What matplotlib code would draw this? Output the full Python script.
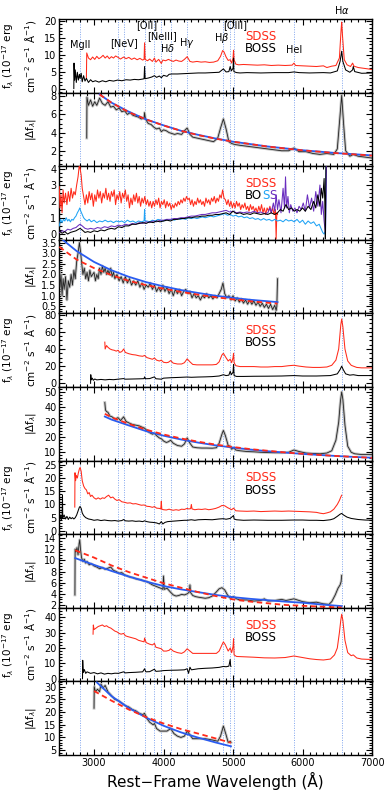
import numpy as np
import matplotlib.pyplot as plt
from matplotlib.ticker import MultipleLocator

# colours
RED = '#ff2a1a'
BLACK = '#000000'
LBLUE = '#1fa3f5'
PURPLE = '#6a2dbf'
FITBLUE = '#2a5cf0'
DOT = '#7fa4ee'
GRAY = '#c4c4c4'

# emission lines marked with dotted verticals (rest frame, Angstrom)
LINE_WL = [2798, 3346, 3426, 3727, 3869, 3968, 4102, 4340, 4861, 4959, 5007, 5876, 6563]

# ---------------------------------------------------------------- object 1
p1_sdss = [(2890, 3.0), (2895, 10.5), (2920, 9.0), (2950, 8.5), (2980, 9.3), (3010, 8.6), (3040, 9.5),
           (3070, 8.8), (3100, 9.2), (3130, 9.8), (3160, 9.0), (3190, 9.6), (3220, 8.8), (3250, 9.4),
           (3280, 9.0), (3310, 9.6), (3346, 9.2), (3380, 8.7), (3426, 9.3), (3460, 8.8), (3500, 9.2),
           (3540, 8.6), (3580, 9.0), (3620, 8.5), (3660, 8.9), (3700, 8.4), (3720, 8.6), (3727, 13.5),
           (3735, 8.6), (3770, 8.2), (3800, 8.7), (3840, 8.0), (3869, 9.0), (3890, 7.8), (3930, 8.6),
           (3968, 7.4), (3990, 8.4), (4030, 8.2), (4070, 8.6), (4102, 8.3), (4140, 8.0), (4180, 8.4),
           (4220, 8.1), (4260, 8.0), (4300, 8.6), (4340, 9.4), (4380, 8.0), (4420, 7.8), (4480, 8.0),
           (4540, 7.8), (4600, 7.9), (4660, 7.7), (4720, 7.8), (4780, 8.2), (4820, 9.5), (4850, 11.2),
           (4870, 10.8), (4900, 9.3), (4930, 8.3), (4959, 8.5), (4980, 7.5), (5000, 9.0), (5007, 11.3),
           (5015, 8.5), (5040, 7.2), (5080, 7.0), (5150, 7.1), (5250, 7.0), (5350, 6.9), (5450, 7.0),
           (5550, 6.8), (5650, 6.9), (5750, 6.8), (5850, 6.9), (5876, 7.5), (5900, 6.8), (6000, 6.7),
           (6100, 6.6), (6200, 6.5), (6300, 6.7), (6350, 6.2), (6420, 6.6), (6480, 6.8), (6530, 9.0),
           (6555, 17.5), (6563, 19.6), (6575, 15.5), (6600, 8.5), (6640, 7.0), (6690, 6.5), (6720, 7.5),
           (6740, 6.6), (6800, 6.2), (6870, 6.0), (6940, 5.8), (7000, 5.6)]
p1_boss = [(2709, 0.0), (2712, 7.5), (2720, 2.5), (2730, 5.5), (2745, 1.8), (2760, 4.8), (2775, 2.5),
           (2790, 4.2), (2800, 3.0), (2815, 4.5), (2830, 2.0), (2850, 3.8), (2870, 2.2), (2890, 3.0),
           (2920, 1.8), (2950, 2.6), (2980, 2.0), (3020, 2.3), (3070, 1.9), (3120, 2.3), (3170, 2.0),
           (3220, 2.4), (3280, 2.2), (3340, 2.5), (3400, 2.3), (3460, 2.6), (3520, 2.5), (3580, 2.7),
           (3640, 2.6), (3700, 2.8), (3720, 2.9), (3727, 6.5), (3735, 2.9), (3780, 3.1), (3830, 3.4),
           (3869, 3.8), (3900, 3.3), (3940, 3.7), (3968, 3.2), (4000, 3.9), (4050, 3.6), (4080, 4.2),
           (4120, 4.3), (4200, 4.3), (4300, 4.4), (4400, 4.5), (4500, 4.6), (4600, 4.6), (4700, 4.7),
           (4800, 4.8), (4861, 5.8), (4900, 4.9), (4940, 5.0), (4959, 6.5), (4975, 5.2), (5000, 6.0),
           (5007, 9.0), (5012, 5.0), (5050, 4.7), (5100, 4.6), (5200, 4.7), (5400, 4.6), (5600, 4.7),
           (5800, 4.7), (5876, 4.9), (5950, 4.7), (6100, 4.6), (6300, 4.7), (6400, 4.6), (6500, 5.2),
           (6540, 8.0), (6563, 11.0), (6580, 8.0), (6620, 5.5), (6680, 4.8), (6720, 5.5), (6730, 6.5),
           (6750, 5.0), (6850, 4.5), (7000, 4.6)]
p2_diff = [(2895, 3.4), (2898, 7.9), (2920, 7.0), (2950, 7.6), (2980, 6.9), (3010, 7.4), (3040, 7.0),
           (3080, 7.8), (3120, 7.2), (3160, 7.0), (3200, 7.4), (3240, 6.8), (3280, 6.9), (3320, 6.5),
           (3360, 6.7), (3400, 6.3), (3440, 6.4), (3480, 6.0), (3520, 6.2), (3560, 5.9), (3600, 5.8),
           (3640, 5.7), (3680, 5.5), (3720, 5.6), (3727, 6.2), (3740, 5.5), (3780, 5.0), (3820, 4.9),
           (3860, 4.6), (3900, 4.4), (3940, 4.5), (3968, 4.1), (4000, 4.3), (4040, 4.2), (4080, 4.0),
           (4120, 3.9), (4160, 3.8), (4200, 3.9), (4260, 3.8), (4300, 4.2), (4340, 4.5), (4380, 3.8),
           (4420, 3.5), (4480, 3.4), (4540, 3.3), (4600, 3.2), (4660, 3.1), (4720, 3.0), (4780, 3.4),
           (4820, 4.5), (4861, 5.5), (4900, 4.4), (4940, 3.0), (4980, 2.8), (5020, 2.7), (5100, 2.6),
           (5200, 2.5), (5300, 2.4), (5400, 2.3), (5500, 2.2), (5600, 2.1), (5700, 2.0), (5800, 2.0),
           (5876, 2.3), (5950, 1.9), (6050, 1.9), (6150, 1.7), (6250, 1.6), (6350, 1.7), (6450, 1.6),
           (6500, 2.2), (6530, 5.0), (6563, 8.1), (6590, 5.0), (6620, 2.0), (6680, 1.4), (6730, 1.6),
           (6800, 1.4), (6900, 1.3), (7000, 1.2)]
p2_fit_blue = [(3080, 8.2), (3250, 7.3), (3500, 6.3), (3750, 5.45), (4000, 4.8), (4250, 4.2), (4500, 3.75),
               (4750, 3.35), (5000, 3.0), (5500, 2.47), (6000, 2.06), (6500, 1.74), (7000, 1.49)]
p2_fit_red = [(3080, 8.2), (3250, 7.3), (3500, 6.25), (3750, 5.45), (4000, 4.78), (4250, 4.2), (4500, 3.72),
              (4750, 3.33), (5000, 3.0), (5500, 2.46), (6000, 2.05), (6500, 1.73), (7000, 1.47)]

# ---------------------------------------------------------------- object 2
p3_sdss = [(2500, 2.9), (2510, 1.6), (2525, 2.4), (2540, 1.3), (2555, 2.7), (2570, 1.9), (2590, 2.5),
           (2610, 1.8), (2630, 2.6), (2650, 2.0), (2670, 2.8), (2690, 2.2), (2710, 2.6), (2730, 2.4),
           (2750, 3.0), (2770, 3.5), (2790, 4.3), (2800, 4.0), (2815, 3.6), (2830, 2.8), (2850, 2.3),
           (2870, 1.8), (2890, 2.4), (2910, 1.9), (2930, 2.6), (2950, 2.1), (2970, 2.5), (2990, 1.7),
           (3010, 2.4), (3030, 2.0), (3050, 2.7), (3070, 2.2), (3090, 2.6), (3110, 1.9), (3130, 2.5),
           (3150, 2.2), (3170, 2.8), (3190, 2.1), (3210, 2.5), (3230, 2.0), (3250, 2.6), (3270, 2.3),
           (3290, 2.7), (3310, 1.8), (3330, 2.4), (3350, 2.1), (3370, 2.6), (3390, 1.9), (3410, 2.5),
           (3430, 2.2), (3450, 2.7), (3470, 2.0), (3490, 2.4), (3510, 1.6), (3530, 2.2), (3550, 1.8),
           (3570, 2.4), (3590, 2.0), (3610, 2.5), (3630, 1.9), (3650, 2.3), (3670, 1.7), (3690, 2.2),
           (3710, 1.9), (3730, 2.3), (3750, 1.8), (3770, 2.1), (3790, 1.7), (3810, 2.0), (3830, 1.6),
           (3850, 2.0), (3870, 1.7), (3890, 2.1), (3910, 1.8), (3930, 2.2), (3950, 1.6), (3970, 2.0),
           (3990, 1.8), (4010, 2.1), (4030, 1.6), (4050, 2.0), (4070, 1.7), (4090, 1.9), (4110, 1.5),
           (4130, 1.8), (4150, 1.6), (4170, 1.9), (4190, 1.7), (4210, 2.0), (4230, 1.8), (4250, 2.1),
           (4270, 1.9), (4290, 2.2), (4310, 2.0), (4330, 2.3), (4350, 2.1), (4370, 2.2), (4390, 1.8),
           (4410, 2.1), (4430, 1.7), (4450, 2.0), (4470, 1.8), (4490, 2.2), (4510, 1.9), (4530, 2.1),
           (4550, 1.8), (4570, 2.0), (4590, 1.7), (4610, 2.2), (4630, 1.9), (4650, 2.1), (4670, 1.8),
           (4690, 2.2), (4710, 2.0), (4730, 2.3), (4750, 1.9), (4770, 2.2), (4790, 2.0), (4810, 2.4),
           (4830, 2.2), (4850, 2.7), (4870, 2.2), (4890, 2.1), (4910, 1.8), (4930, 2.1), (4950, 1.7),
           (4970, 2.0), (4990, 1.6), (5010, 1.9), (5030, 1.6), (5050, 2.0), (5070, 1.7), (5090, 1.9),
           (5110, 1.5), (5130, 1.8), (5150, 1.6), (5170, 1.9), (5190, 1.5), (5210, 1.7), (5230, 1.4),
           (5250, 1.8), (5270, 1.5), (5290, 1.7), (5310, 1.4), (5330, 1.6), (5350, 1.3), (5370, 1.7),
           (5390, 1.4), (5410, 1.8), (5430, 1.3), (5450, 1.6), (5470, 1.2), (5490, 1.6), (5510, 1.4),
           (5530, 1.7), (5550, 1.3), (5570, 1.6), (5590, 1.2), (5610, 1.5), (5620, -0.3), (5630, 1.3),
           (5640, 1.2)]
p3_boss_blue = [(2500, 0.5), (2520, 0.9), (2540, 0.7), (2560, 0.9), (2580, 0.8), (2600, 1.0), (2620, 0.8),
                (2640, 0.9), (2660, 0.75), (2680, 0.9), (2700, 0.85), (2720, 1.0), (2740, 1.1), (2760, 1.3),
                (2780, 1.45), (2795, 1.6), (2810, 1.4), (2830, 1.2), (2850, 1.0), (2870, 0.9), (2900, 0.8),
                (2930, 0.9), (2960, 0.75), (3000, 0.85), (3040, 0.7), (3080, 0.8), (3120, 0.75), (3160, 0.85),
                (3200, 0.75), (3240, 0.8), (3280, 0.7), (3320, 0.8), (3360, 0.75), (3400, 0.8), (3440, 0.7),
                (3480, 0.85), (3520, 0.75), (3560, 0.8), (3600, 0.7), (3640, 0.8), (3680, 0.75), (3720, 0.8),
                (3727, 1.5), (3734, 0.8), (3760, 0.8), (3800, 0.75), (3840, 0.85), (3880, 0.8), (3920, 0.9),
                (3960, 0.85), (4000, 0.8), (4040, 0.9), (4080, 0.85), (4120, 0.9), (4160, 0.85), (4200, 0.95),
                (4240, 0.9), (4280, 0.95), (4320, 0.9), (4360, 1.0), (4400, 0.95), (4440, 1.0), (4480, 0.95),
                (4520, 1.0), (4560, 1.05), (4600, 1.0), (4640, 1.05), (4680, 1.1), (4720, 1.05), (4760, 1.1),
                (4800, 1.15), (4840, 1.2), (4880, 1.25), (4920, 1.15), (4960, 1.2), (5000, 1.1), (5040, 1.15),
                (5080, 1.05), (5120, 1.1), (5160, 1.0), (5200, 1.05), (5240, 0.95), (5280, 1.0), (5320, 0.9),
                (5360, 0.95), (5400, 0.85), (5440, 0.95), (5480, 0.85), (5520, 0.9), (5560, 0.8), (5600, 0.9),
                (5640, 0.8), (5680, 0.85), (5720, 0.75), (5760, 0.9), (5800, 0.8), (5840, 0.85), (5880, 0.75),
                (5920, 0.9), (5960, 0.7), (6000, 0.85), (6040, 0.6), (6080, 0.8), (6120, 0.65), (6160, 0.75),
                (6200, 0.5), (6240, 0.6), (6270, 0.3), (6290, 0.1), (6310, 0.0), (6330, 0.2), (6340, 4.3)]
p3_boss_purple = [(2500, 0.1), (2540, 0.2), (2580, 0.15), (2620, 0.3), (2660, 0.25), (2700, 0.35), (2740, 0.4),
                  (2780, 0.55), (2800, 0.6), (2830, 0.5), (2870, 0.35), (2910, 0.3), (2950, 0.35), (3000, 0.3),
                  (3050, 0.4), (3100, 0.35), (3150, 0.45), (3200, 0.4), (3250, 0.5), (3300, 0.45), (3350, 0.55),
                  (3400, 0.5), (3450, 0.6), (3500, 0.55), (3550, 0.65), (3600, 0.6), (3650, 0.7), (3700, 0.65),
                  (3750, 0.75), (3800, 0.7), (3850, 0.8), (3900, 0.75), (3950, 0.85), (4000, 0.85), (4050, 0.9),
                  (4100, 0.9), (4150, 0.95), (4200, 0.95), (4250, 1.0), (4300, 1.0), (4350, 1.05), (4400, 1.1),
                  (4450, 1.1), (4500, 1.15), (4550, 1.2), (4600, 1.2), (4650, 1.25), (4700, 1.3), (4750, 1.3),
                  (4800, 1.35), (4850, 1.4), (4900, 1.45), (4950, 1.35), (5000, 1.4), (5050, 1.3), (5100, 1.35),
                  (5150, 1.3), (5200, 1.35), (5250, 1.3), (5300, 1.4), (5350, 1.3), (5400, 1.35), (5450, 1.25),
                  (5500, 1.3), (5530, 1.6), (5550, 1.3), (5580, 1.9), (5600, 1.4), (5620, 2.4), (5640, 1.5),
                  (5660, 2.1), (5690, 1.3), (5720, 2.8), (5740, 1.6), (5755, 3.5), (5770, 1.6), (5790, 2.3),
                  (5810, 1.3), (5830, 1.8), (5860, 1.4), (5890, 1.6), (5920, 1.3), (5950, 1.7), (5980, 1.5),
                  (6010, 1.9), (6040, 1.4), (6070, 2.4), (6100, 1.6), (6130, 2.2), (6160, 1.4), (6190, 2.6),
                  (6220, 1.7), (6250, 3.0), (6270, 1.2), (6290, 2.0), (6310, 0.8), (6330, 0.0), (6345, 4.3)]
p3_boss_black = [(2500, 0.2), (2540, 0.05), (2580, 0.15), (2620, 0.0), (2660, 0.1), (2700, 0.15), (2740, 0.2),
                 (2780, 0.3), (2800, 0.35), (2830, 0.25), (2870, 0.1), (2910, 0.15), (2950, 0.1), (3000, 0.2),
                 (3050, 0.15), (3100, 0.25), (3150, 0.2), (3200, 0.3), (3250, 0.35), (3300, 0.3), (3350, 0.45),
                 (3400, 0.4), (3450, 0.5), (3500, 0.5), (3550, 0.6), (3600, 0.6), (3650, 0.65), (3700, 0.7),
                 (3750, 0.65), (3800, 0.75), (3850, 0.7), (3900, 0.8), (3950, 0.75), (4000, 0.8), (4050, 0.85),
                 (4100, 0.8), (4150, 0.9), (4200, 0.9), (4250, 0.95), (4300, 0.95), (4350, 1.0), (4400, 1.0),
                 (4450, 1.05), (4500, 1.05), (4550, 1.1), (4600, 1.1), (4650, 1.15), (4700, 1.15), (4750, 1.2),
                 (4800, 1.2), (4850, 1.25), (4900, 1.3), (4950, 1.2), (5000, 1.4), (5050, 1.25), (5100, 1.3),
                 (5150, 1.2), (5200, 1.25), (5250, 1.2), (5300, 1.3), (5350, 1.25), (5400, 1.2), (5450, 1.25),
                 (5500, 1.2), (5550, 1.3), (5600, 1.2), (5640, 1.3), (5680, 1.5), (5720, 1.4), (5760, 1.8),
                 (5800, 1.5), (5840, 1.6), (5880, 1.4), (5920, 1.5), (5960, 1.4), (6000, 1.6), (6040, 1.4),
                 (6080, 1.7), (6120, 1.5), (6160, 2.0), (6190, 1.6), (6220, 2.4), (6250, 1.7), (6270, 2.8),
                 (6290, 2.2), (6310, 3.4), (6320, 2.0), (6328, -0.3), (6336, 4.3)]
p4_diff = [(2500, 2.2), (2510, 1.4), (2525, 2.0), (2540, 1.0), (2555, 1.8), (2570, 1.3), (2590, 1.9),
           (2610, 0.8), (2630, 1.7), (2650, 1.4), (2670, 2.0), (2690, 1.5), (2710, 2.2), (2730, 1.8),
           (2750, 2.6), (2770, 3.0), (2790, 3.5), (2805, 3.1), (2820, 2.6), (2840, 2.0), (2860, 2.3),
           (2880, 1.8), (2900, 2.1), (2920, 1.7), (2940, 2.2), (2960, 1.9), (3000, 2.1), (3020, 1.7),
           (3040, 2.0), (3060, 1.8), (3080, 2.3), (3100, 2.0), (3120, 2.4), (3140, 2.1), (3160, 2.3),
           (3180, 2.0), (3200, 2.2), (3220, 2.0), (3240, 2.3), (3260, 1.9), (3280, 2.1), (3300, 1.8),
           (3330, 2.0), (3360, 1.7), (3390, 1.9), (3420, 1.6), (3450, 1.9), (3480, 1.6), (3510, 1.8),
           (3540, 1.5), (3570, 1.7), (3600, 1.5), (3630, 1.7), (3660, 1.4), (3690, 1.6), (3720, 1.3),
           (3750, 1.5), (3780, 1.4), (3810, 1.6), (3840, 1.3), (3870, 1.5), (3900, 1.2), (3930, 1.4),
           (3960, 1.2), (3990, 1.5), (4020, 1.2), (4050, 1.4), (4080, 1.1), (4110, 1.3), (4140, 1.0),
           (4170, 1.3), (4200, 1.1), (4230, 1.3), (4260, 1.0), (4290, 1.2), (4320, 1.3), (4350, 1.1),
           (4380, 1.2), (4410, 0.9), (4440, 1.1), (4470, 0.9), (4500, 1.0), (4530, 0.8), (4560, 1.0),
           (4590, 0.9), (4620, 1.1), (4650, 0.9), (4680, 1.0), (4710, 0.85), (4740, 1.0), (4770, 0.9),
           (4800, 1.1), (4830, 1.3), (4855, 1.6), (4880, 1.1), (4910, 0.9), (4940, 1.0), (4970, 0.8),
           (5000, 1.0), (5030, 0.75), (5060, 0.9), (5090, 0.7), (5120, 0.85), (5150, 0.65), (5180, 0.8),
           (5210, 0.6), (5240, 0.8), (5270, 0.6), (5300, 0.75), (5330, 0.55), (5360, 0.7), (5390, 0.5),
           (5420, 0.65), (5450, 0.45), (5480, 0.6), (5510, 0.4), (5540, 0.6), (5570, 0.35), (5600, 0.55),
           (5620, 0.3), (5630, 0.5), (5640, 1.8)]
p4_fit_blue = [(2500, 3.76), (2750, 3.1), (3000, 2.59), (3250, 2.2), (3500, 1.89), (3750, 1.64), (4000, 1.44),
               (4250, 1.27), (4500, 1.13), (4750, 1.0), (5000, 0.9), (5250, 0.81), (5500, 0.74), (5640, 0.7)]
p4_fit_red = [(2500, 3.3), (2750, 2.7), (3000, 2.3), (3250, 1.97), (3500, 1.7), (3750, 1.5), (4000, 1.33),
              (4250, 1.18), (4500, 1.05), (4750, 0.93), (5000, 0.83), (5250, 0.74), (5500, 0.67), (5640, 0.63)]

# ---------------------------------------------------------------- object 3
p5_sdss = [(3155, 48), (3160, 40), (3180, 44), (3200, 42), (3230, 40), (3260, 39), (3290, 38.5), (3320, 37.5),
           (3346, 38.5), (3370, 36), (3400, 37), (3426, 40), (3450, 36), (3500, 34.5), (3550, 33.5),
           (3600, 33), (3650, 32), (3700, 31.5), (3727, 32.5), (3760, 30), (3800, 29), (3840, 28),
           (3869, 29.5), (3900, 27), (3940, 26), (3968, 27), (4000, 24.5), (4040, 24), (4070, 24.5),
           (4102, 26.5), (4140, 23.5), (4200, 22.5), (4260, 22.5), (4300, 24), (4340, 28.5), (4380, 25),
           (4420, 22), (4480, 21.5), (4550, 21.5), (4620, 21.5), (4700, 21.5), (4760, 22), (4800, 25),
           (4840, 33), (4861, 35), (4890, 31), (4930, 26), (4959, 28), (4980, 24), (5000, 30), (5007, 35),
           (5015, 24), (5040, 20.5), (5100, 19.5), (5200, 19.5), (5300, 19.5), (5400, 19), (5500, 19),
           (5600, 19.5), (5700, 19.5), (5800, 20.5), (5876, 21), (5950, 20), (6050, 19), (6150, 18.5),
           (6250, 18.5), (6350, 19), (6420, 21), (6480, 27), (6520, 40), (6550, 68), (6563, 75), (6580, 66),
           (6610, 40), (6650, 26), (6700, 21), (6730, 20), (6780, 18.5), (6850, 18), (6950, 18), (7000, 18)]
p5_boss = [(2950, 0), (2953, 10), (2960, 4), (2975, 6), (2990, 3.5), (3010, 5), (3040, 4), (3100, 4.5),
           (3160, 4), (3220, 4.5), (3280, 4.2), (3346, 4.8), (3426, 5.5), (3450, 4.8), (3550, 5.0),
           (3650, 5.2), (3720, 5.4), (3727, 7.5), (3740, 5.3), (3800, 5.5), (3869, 7.5), (3890, 5.3),
           (3968, 4.8), (4000, 6), (4102, 6.5), (4200, 6.8), (4340, 7.3), (4400, 7.0), (4500, 7.3),
           (4600, 7.5), (4700, 7.8), (4800, 8.5), (4861, 10), (4900, 9), (4940, 9.5), (4959, 14), (4975, 10),
           (5000, 13), (5007, 22), (5015, 9), (5050, 8), (5150, 8), (5300, 8.2), (5500, 8.3), (5700, 8.5),
           (5876, 9.0), (6000, 8.5), (6200, 8.5), (6400, 9), (6500, 11), (6540, 16), (6563, 20), (6585, 16),
           (6620, 11), (6680, 9.5), (6730, 10), (6800, 9), (7000, 9)]
p6_diff = [(3155, 43), (3165, 38), (3180, 37), (3200, 36.5), (3230, 34), (3260, 33.5), (3300, 32), (3346, 33),
           (3380, 31), (3426, 33.5), (3460, 30.5), (3500, 29.5), (3550, 28.5), (3600, 28), (3650, 27.5),
           (3700, 26.5), (3727, 26), (3760, 24.5), (3800, 23), (3840, 22), (3869, 22.5), (3900, 21),
           (3940, 19.5), (3968, 19), (4000, 17.5), (4040, 16.5), (4070, 17), (4102, 18), (4140, 16),
           (4200, 14.5), (4260, 14), (4300, 15.5), (4340, 19.5), (4380, 16), (4420, 13.5), (4480, 13),
           (4550, 12.8), (4620, 12.8), (4700, 12.7), (4760, 13), (4800, 16), (4840, 22), (4861, 24.5),
           (4890, 21), (4930, 14.5), (4959, 14), (4980, 12), (5007, 13), (5040, 11.5), (5100, 11),
           (5200, 10.5), (5300, 10.3), (5400, 10), (5500, 9.8), (5600, 9.7), (5700, 9.7), (5800, 10),
           (5876, 11.5), (5950, 10.5), (6050, 9.5), (6150, 9.2), (6250, 9.0), (6350, 9.5), (6420, 11),
           (6480, 18), (6520, 30), (6545, 44), (6563, 50), (6580, 45), (6610, 28), (6650, 14), (6700, 10),
           (6750, 9), (6850, 8.5), (6950, 8.5), (7000, 8.5)]
p6_fit_blue = [(3155, 33.7), (3250, 31.7), (3500, 27.8), (3750, 24.0), (4000, 21.0), (4250, 18.5), (4500, 16.4),
               (4750, 14.6), (5000, 13.1), (5250, 11.8), (5500, 10.7), (5750, 9.8), (6000, 8.9), (6250, 8.2),
               (6500, 7.5), (6750, 6.9), (7000, 6.4)]
p6_fit_red = [(3155, 35.5), (3250, 33.2), (3500, 28.8), (3750, 25.0), (4000, 21.8), (4250, 19.2), (4500, 17.0),
              (4750, 15.1), (5000, 13.5), (5250, 12.1), (5500, 11.0), (5750, 9.9), (6000, 9.0), (6250, 8.2),
              (6500, 7.5), (6750, 6.9), (7000, 6.3)]

# ---------------------------------------------------------------- object 4
p7_sdss = [(2723, 9), (2726, 22), (2735, 19), (2745, 21), (2760, 20), (2775, 22), (2790, 23.5), (2800, 24),
           (2815, 22.5), (2830, 19), (2850, 17), (2870, 16), (2890, 15.5), (2910, 14), (2930, 14.5),
           (2950, 13), (2970, 13.5), (3000, 12.5), (3030, 12), (3060, 12.5), (3090, 12), (3120, 12.5),
           (3150, 12.3), (3180, 13), (3210, 13.5), (3240, 12.5), (3270, 12.8), (3300, 12), (3330, 11.5),
           (3360, 11.8), (3400, 11), (3440, 10.8), (3480, 10.5), (3520, 10.6), (3560, 10.2), (3600, 10.3),
           (3640, 10), (3680, 9.7), (3720, 9.8), (3760, 9.3), (3800, 9.2), (3840, 8.9), (3869, 9.2),
           (3900, 8.6), (3940, 8.5), (3960, 8.3), (3968, 11.2), (3975, 8.2), (4000, 8.0), (4040, 7.9),
           (4080, 8.2), (4102, 8.0), (4140, 7.8), (4180, 8.0), (4220, 7.8), (4260, 8.2), (4300, 8.1),
           (4340, 8.5), (4360, 8.3), (4390, 8.4), (4400, 10.0), (4410, 8.3), (4450, 8.0), (4500, 8.2),
           (4550, 8.1), (4600, 8.3), (4650, 8.0), (4700, 8.2), (4750, 8.5), (4800, 9.0), (4840, 9.6),
           (4880, 9.5), (4920, 8.8), (4959, 8.3), (4980, 8.0), (5007, 8.6), (5040, 7.6), (5100, 7.5),
           (5200, 7.4), (5300, 7.5), (5400, 7.3), (5500, 7.4), (5600, 7.5), (5700, 7.4), (5800, 7.5),
           (5900, 7.4), (6000, 7.3), (6100, 7.2), (6200, 7.0), (6250, 6.7), (6300, 6.5), (6350, 6.8),
           (6400, 7.2), (6450, 8.2), (6500, 10.0), (6530, 11.5), (6550, 12.8), (6563, 13.5)]
p7_boss = [(2500, 5.5), (2510, 4.5), (2520, 6.0), (2530, 4.2), (2540, 5.5), (2546, 13.5), (2550, 4.8),
           (2570, 6.0), (2590, 4.5), (2610, 5.5), (2630, 4.3), (2650, 5.2), (2670, 4.6), (2690, 5.0),
           (2710, 4.5), (2730, 5.0), (2750, 6.0), (2770, 7.5), (2790, 9.0), (2800, 9.2), (2815, 8.5),
           (2830, 6.8), (2850, 5.8), (2880, 5.0), (2920, 4.5), (2960, 4.3), (3000, 4.0), (3050, 4.2),
           (3100, 3.9), (3150, 4.1), (3200, 3.9), (3250, 3.8), (3300, 3.9), (3346, 3.7), (3400, 3.9),
           (3426, 4.3), (3450, 3.8), (3500, 3.7), (3550, 3.8), (3600, 3.6), (3650, 3.7), (3700, 3.5),
           (3727, 3.8), (3760, 3.5), (3800, 3.3), (3850, 3.2), (3900, 3.0), (3940, 2.6), (3968, 3.5),
           (3990, 2.6), (4020, 3.2), (4060, 3.5), (4102, 3.6), (4150, 3.7), (4200, 3.8), (4250, 3.9),
           (4300, 4.0), (4340, 4.0), (4400, 4.2), (4450, 4.0), (4500, 4.2), (4600, 4.3), (4700, 4.2),
           (4800, 4.5), (4861, 4.6), (4900, 4.4), (4959, 4.7), (5007, 5.8), (5015, 4.5), (5050, 4.2),
           (5150, 4.0), (5300, 4.1), (5500, 4.0), (5700, 4.0), (5876, 4.1), (6000, 4.1), (6100, 4.0),
           (6200, 4.0), (6300, 3.9), (6400, 4.2), (6450, 4.6), (6500, 5.5), (6540, 6.3), (6563, 6.6),
           (6590, 6.0), (6640, 5.2), (6700, 4.7), (6800, 4.3), (6900, 4.1), (7000, 4.0)]
p8_diff = [(2725, 3.8), (2728, 12.0), (2740, 11.5), (2755, 12.3), (2770, 11.0), (2785, 13.0), (2795, 13.7),
           (2805, 12.0), (2820, 10.5), (2840, 9.8), (2860, 10.2), (2880, 9.5), (2900, 9.8), (2930, 9.2),
           (2960, 9.4), (3000, 9.0), (3040, 8.8), (3080, 8.5), (3120, 8.7), (3160, 8.4), (3200, 8.6),
           (3240, 8.8), (3280, 8.2), (3320, 8.0), (3360, 7.7), (3400, 7.8), (3440, 7.4), (3480, 7.2),
           (3520, 7.0), (3560, 6.9), (3600, 6.7), (3640, 6.6), (3680, 6.5), (3720, 6.3), (3760, 6.2),
           (3800, 5.9), (3840, 5.6), (3880, 5.4), (3920, 5.2), (3960, 5.0), (3990, 4.8), (4000, 7.2),
           (4010, 4.8), (4050, 5.0), (4100, 4.3), (4140, 3.8), (4180, 3.6), (4220, 3.7), (4260, 3.9),
           (4300, 3.8), (4340, 4.0), (4370, 4.3), (4380, 5.6), (4390, 4.2), (4420, 3.7), (4460, 3.5),
           (4500, 3.4), (4550, 3.3), (4600, 3.2), (4650, 3.3), (4700, 3.6), (4750, 4.2), (4800, 4.9),
           (4840, 5.1), (4880, 4.7), (4920, 3.8), (4960, 3.2), (5007, 3.5), (5050, 3.1), (5100, 2.9),
           (5200, 2.9), (5300, 2.7), (5400, 2.8), (5450, 3.1), (5500, 2.7), (5600, 2.8), (5700, 3.0),
           (5760, 2.8), (5800, 2.9), (5876, 3.1), (5950, 2.8), (6000, 2.6), (6100, 2.4), (6200, 2.5),
           (6300, 2.2), (6380, 2.1), (6420, 2.6), (6470, 3.8), (6510, 5.0), (6540, 5.6), (6555, 6.2),
           (6563, 7.3)]
p8_fit_blue = [(2730, 10.4), (3000, 9.2), (3250, 8.1), (3500, 7.1), (3750, 6.2), (4000, 5.4), (4250, 4.8),
               (4500, 4.3), (4750, 3.8), (5000, 3.4), (5250, 3.1), (5500, 2.85), (5750, 2.6), (6000, 2.4),
               (6250, 2.1), (6563, 1.8)]
p8_fit_red = [(2730, 11.8), (3000, 10.5), (3250, 9.1), (3500, 7.9), (3750, 6.9), (4000, 5.9), (4250, 5.1),
              (4500, 4.3), (4750, 3.6), (5000, 3.0), (5250, 2.6), (5500, 2.3), (5750, 2.0), (6000, 1.85),
              (6250, 1.7), (6563, 1.55)]

# ---------------------------------------------------------------- object 5
p9_sdss = [(2986, 29), (2990, 35), (3000, 32), (3030, 33), (3060, 34), (3090, 34.5), (3120, 35), (3150, 34),
           (3180, 34.5), (3210, 33.5), (3240, 33), (3270, 32), (3300, 31), (3330, 30.5), (3360, 29.5),
           (3390, 29), (3426, 29.5), (3450, 28), (3480, 27.5), (3520, 27), (3560, 26.5), (3600, 26),
           (3640, 25), (3680, 24.5), (3720, 24), (3727, 26.5), (3750, 23.5), (3800, 22.5), (3840, 22),
           (3869, 23), (3890, 20.5), (3930, 20), (3968, 19.5), (4000, 18), (4040, 18), (4080, 18.5),
           (4102, 19.5), (4140, 18), (4200, 17), (4260, 16.5), (4300, 17.5), (4340, 19.5), (4380, 18),
           (4420, 16.5), (4480, 16.5), (4550, 16.5), (4620, 16.5), (4700, 16.5), (4760, 16.5), (4800, 18),
           (4840, 22), (4861, 24), (4890, 22), (4930, 18), (4959, 20), (4980, 17), (5000, 21), (5007, 26),
           (5015, 15.5), (5050, 14.5), (5150, 14.3), (5300, 14), (5450, 13.6), (5600, 13.5), (5750, 13.8),
           (5876, 14.8), (5950, 14.2), (6100, 13), (6200, 12.5), (6300, 12.2), (6400, 12.8), (6460, 15.5),
           (6500, 20), (6530, 30), (6550, 38), (6563, 42), (6580, 38), (6610, 25), (6650, 17), (6700, 15),
           (6730, 15.5), (6780, 13.5), (6850, 12.8), (6950, 12.6), (7000, 12.8)]
p9_boss = [(2834, 0), (2837, 12), (2845, 4), (2860, 6), (2880, 3.5), (2900, 4.5), (2950, 3.5), (3000, 4),
           (3050, 3.2), (3100, 3.8), (3150, 3.0), (3200, 3.5), (3250, 3.2), (3300, 3.6), (3350, 3.5),
           (3426, 4.5), (3450, 3.8), (3500, 4.0), (3600, 4.2), (3700, 4.5), (3727, 6.5), (3745, 4.5),
           (3800, 4.6), (3869, 6.2), (3890, 4.8), (3950, 5.0), (4000, 5.3), (4100, 5.5), (4200, 5.6),
           (4300, 5.8), (4340, 6.5), (4360, 3.5), (4380, 7.5), (4400, 5.8), (4500, 6.5), (4600, 6.8),
           (4700, 7.0), (4800, 7.4), (4861, 8.0), (4900, 7.8), (4940, 8.2), (4959, 12.5), (4965, 8.5),
           (4970, 8.0)]
p10_diff = [(3000, 21.5), (3003, 30), (3020, 28), (3050, 29), (3080, 28), (3100, 31), (3130, 29.5),
            (3160, 30.5), (3200, 28), (3250, 26.5), (3300, 25), (3350, 24.5), (3400, 23.5), (3450, 22.5),
            (3500, 22), (3550, 21), (3600, 20.5), (3650, 19.5), (3700, 19), (3727, 19.5), (3760, 17.5),
            (3800, 16), (3850, 15), (3869, 15.5), (3900, 13.5), (3950, 12.5), (4000, 12.5), (4050, 12.5),
            (4102, 13.5), (4150, 11.5), (4200, 10.5), (4250, 10), (4300, 10.5), (4340, 12.5), (4380, 11),
            (4420, 9.5), (4500, 9.5), (4600, 9.5), (4700, 9), (4780, 8.5), (4820, 10.5), (4861, 14.5),
            (4900, 11), (4930, 8), (4960, 8.5), (4970, 8)]
p10_fit_blue = [(3040, 31.7), (3250, 26.3), (3500, 21.6), (3750, 17.8), (4000, 14.6), (4250, 12.0),
                (4500, 9.9), (4750, 8.0), (4970, 6.5)]
p10_fit_red = [(3000, 28.3), (3250, 24.5), (3500, 21.0), (3750, 18.0), (4000, 15.5), (4250, 13.3),
               (4500, 11.5), (4750, 9.6), (4970, 7.9)]

# y-axis limits and major tick steps for the ten panels
YLIMS = [(-1.2, 20.5), (0.3, 8.4), (-0.35, 4.15), (0.17, 3.63), (-4.3, 81.5),
         (4.5, 53.3), (-1.25, 26.6), (1.5, 14.7), (-1.7, 46.2), (3.1, 32.1)]
YSTEP = [5, 2, 1, 0.5, 20, 10, 5, 2, 10, 5]
YMINOR = [1, 0.5, 0.25, 0.1, 5, 2, 1, 0.5, 2, 1]

FLUX_LABEL = 'f$_\\lambda$ (10$^{-17}$ erg\ncm$^{-2}$ s$^{-1}$ \u00c5$^{-1}$)'
DIFF_LABEL = '|$\\Delta$f$_\\lambda$|'


def xy(pairs):
    a = np.array(pairs, dtype=float)
    return a[:, 0], a[:, 1]


def spec(ax, pairs, color, lw=0.75):
    x, y = xy(pairs)
    ax.plot(x, y, color=color, lw=lw, zorder=3)


def diff(ax, pairs, fit_blue, fit_red):
    # light grey band under the black curve stands in for the error envelope
    x, y = xy(pairs)
    ax.plot(x, y, color=GRAY, lw=2.0, zorder=2, solid_joinstyle='round')
    ax.plot(x, y, color='#222222', lw=0.6, zorder=3)
    bx, by = xy(fit_blue)
    ax.plot(bx, by, color=FITBLUE, lw=1.3, zorder=4)
    rx, ry = xy(fit_red)
    ax.plot(rx, ry, color=RED, lw=1.3, ls=(0, (3, 2)), zorder=5)


def legend(ax):
    ax.text(0.594, 0.765, 'SDSS', color=RED, fontsize=8.5, transform=ax.transAxes, va='center')
    ax.text(0.594, 0.60, 'BOSS', color=BLACK, fontsize=8.5, transform=ax.transAxes, va='center')


fig = plt.figure(figsize=(3.9, 7.93), dpi=100)
axes = fig.subplots(10, 1, sharex=True, gridspec_kw=dict(hspace=0))
fig.subplots_adjust(left=0.152, right=0.954, top=0.976, bottom=0.048)

for i, ax in enumerate(axes):
    ax.set_xlim(2500, 7000)
    ax.set_ylim(*YLIMS[i])
    ax.yaxis.set_major_locator(MultipleLocator(YSTEP[i]))
    ax.yaxis.set_minor_locator(MultipleLocator(YMINOR[i]))
    ax.xaxis.set_major_locator(MultipleLocator(1000))
    ax.xaxis.set_minor_locator(MultipleLocator(100))
    ax.tick_params(which='both', direction='in', top=True, right=True, labelsize=7, width=0.8, pad=2)
    ax.tick_params(which='major', length=4)
    ax.tick_params(which='minor', length=2)
    for s in ax.spines.values():
        s.set_linewidth(1.0)
    for wl in LINE_WL:
        ax.axvline(wl, color=DOT, lw=0.7, ls=(0, (1, 1.5)), zorder=1)
    ax.set_ylabel(FLUX_LABEL if i % 2 == 0 else DIFF_LABEL, fontsize=7.5, linespacing=1.6)
    ax.yaxis.set_label_coords(-0.068, 0.5)

# object 1
spec(axes[0], p1_sdss, RED)
spec(axes[0], p1_boss, BLACK)
legend(axes[0])
diff(axes[1], p2_diff, p2_fit_blue, p2_fit_red)

# object 2 (two BOSS epochs plus the combined one)
spec(axes[2], p3_sdss, RED)
spec(axes[2], p3_boss_blue, LBLUE)
spec(axes[2], p3_boss_purple, PURPLE)
spec(axes[2], p3_boss_black, BLACK)
axes[2].text(0.594, 0.765, 'SDSS', color=RED, fontsize=8.5, transform=axes[2].transAxes, va='center')
t = axes[2].text(0.594, 0.60, 'BO', color=BLACK, fontsize=8.5, transform=axes[2].transAxes, va='center')
t2 = axes[2].annotate('S', xy=(1, 0), xycoords=t, va='bottom', color=LBLUE, fontsize=8.5)
axes[2].annotate('S', xy=(1, 0), xycoords=t2, va='bottom', color=PURPLE, fontsize=8.5)
diff(axes[3], p4_diff, p4_fit_blue, p4_fit_red)

# object 3
spec(axes[4], p5_sdss, RED)
spec(axes[4], p5_boss, BLACK)
legend(axes[4])
diff(axes[5], p6_diff, p6_fit_blue, p6_fit_red)

# object 4
spec(axes[6], p7_sdss, RED)
spec(axes[6], p7_boss, BLACK)
legend(axes[6])
diff(axes[7], p8_diff, p8_fit_blue, p8_fit_red)

# object 5
spec(axes[8], p9_sdss, RED)
spec(axes[8], p9_boss, BLACK)
legend(axes[8])
diff(axes[9], p10_diff, p10_fit_blue, p10_fit_red)

# line identifications across the top panel
top = axes[0]
for lab, x, y in [('MgII', 2795, 12.8), ('[NeV]', 3428, 13.4), ('[OII]', 3760, 18.7),
                  ('[NeIII]', 3975, 15.4), ('H$\\delta$', 4060, 11.9), ('H$\\gamma$', 4335, 13.4),
                  ('H$\\beta$', 4840, 14.8), ('[OIII]', 5025, 18.7), ('HeI', 5885, 11.3),
                  ('H$\\alpha$', 6565, 23.3)]:
    top.text(x, y, lab, fontsize=7, ha='center', va='center', clip_on=False, zorder=6)

axes[-1].set_xlabel('Rest\u2212Frame Wavelength (\u00c5)', fontsize=11, labelpad=3)

fig.savefig('out.png', dpi=100)
